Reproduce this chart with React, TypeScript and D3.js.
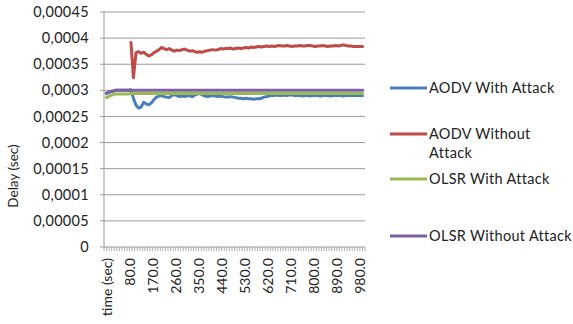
import React from "react";
import * as d3 from "d3";

const categories: string[] = ["time (sec)"].concat(
  Array.from({ length: 101 }, (_, k) => (k * 10).toFixed(1))
);

const yTicks: number[] = [0, 0.00005, 0.0001, 0.00015, 0.0002, 0.00025, 0.0003, 0.00035, 0.0004, 0.00045];
const yTickLabels: string[] = ["0", "0,00005", "0,0001", "0,00015", "0,0002", "0,00025", "0,0003", "0,00035", "0,0004", "0,00045"];

const aodvWith: number[] = [
  0.000293, 0.000295, 0.000297, 0.000298, 0.0003, 0.0003, 0.0003, 0.0003, 0.0003, 0.0003,
  0.000301, 0.000285, 0.000272, 0.000266, 0.000268, 0.000277, 0.000274, 0.000272, 0.000276, 0.000282,
  0.000287, 0.000289, 0.00029, 0.000288, 0.000287, 0.000286, 0.00029, 0.000292, 0.00029, 0.000288,
  0.000289, 0.000288, 0.000289, 0.00029, 0.000288, 0.000291, 0.000293, 0.000294, 0.000291, 0.000289,
  0.000288, 0.000289, 0.00029, 0.000289, 0.000288, 0.000289, 0.000288, 0.000287, 0.000287, 0.000288,
  0.000287, 0.000286, 0.000285, 0.000285, 0.000284, 0.000285, 0.000284, 0.000284, 0.000283, 0.000284,
  0.000284, 0.000285, 0.000287, 0.000288, 0.000289, 0.00029, 0.00029, 0.000291, 0.00029, 0.00029,
  0.000291, 0.00029, 0.000291, 0.000291, 0.00029, 0.00029, 0.00029, 0.000289, 0.00029, 0.00029,
  0.000289, 0.00029, 0.00029, 0.00029, 0.000289, 0.00029, 0.00029, 0.00029, 0.000289, 0.00029,
  0.00029, 0.00029, 0.00029, 0.000289, 0.00029, 0.00029, 0.00029, 0.00029, 0.00029, 0.00029,
  0.00029, 0.00029,
];

const aodvWithout: (number | null)[] = [
  null, null, null, null, null, null, null, null, null, null,
  0.000394, 0.000324, 0.000372, 0.000374, 0.000371, 0.000373, 0.000369, 0.000366, 0.000368, 0.000372,
  0.000375, 0.000378, 0.000382, 0.00038, 0.000378, 0.00038, 0.000377, 0.000375, 0.000377, 0.000376,
  0.000378, 0.000379, 0.000377, 0.000375, 0.000376, 0.000374, 0.000373, 0.000374, 0.000373, 0.000375,
  0.000376, 0.000377, 0.000378, 0.000377, 0.000378, 0.00038, 0.000379, 0.00038, 0.00038, 0.000381,
  0.000379, 0.00038, 0.000381, 0.00038, 0.000381, 0.000382, 0.000381, 0.000383, 0.000382, 0.000383,
  0.000384, 0.000383, 0.000384, 0.000385, 0.000384, 0.000385, 0.000384, 0.000385, 0.000386, 0.000385,
  0.000385, 0.000386, 0.000385, 0.000384, 0.000385, 0.000385, 0.000386, 0.000385, 0.000385, 0.000386,
  0.000386, 0.000385, 0.000384, 0.000385, 0.000385, 0.000386, 0.000385, 0.000384, 0.000385, 0.000385,
  0.000386, 0.000385, 0.000386, 0.000387, 0.000386, 0.000385, 0.000385, 0.000384, 0.000384, 0.000384,
  0.000384, 0.000384,
];

const olsrWith: number[] = [
  0.000285, 0.000287, 0.00029, 0.000292, 0.000293, 0.000293, 0.000293, 0.000293, 0.000293, 0.000293,
  ...Array(92).fill(0.000294),
];

const olsrWithout: number[] = [
  0.000293, 0.000296, 0.000298, 0.000299,
  ...Array(98).fill(0.0003),
];

const seriesNames: string[] = ["AODV With Attack", "AODV Without Attack", "OLSR With Attack", "OLSR Without Attack"];
const seriesColors: string[] = ["#4A7EBB", "#BE4B48", "#98B954", "#7D60A0"];

const W = 573;
const H = 324;
const FONT = "Lato, 'Open Sans', sans-serif";

export default function App() {
  const x = d3.scaleBand<number>().domain(d3.range(categories.length)).range([104, 365]).padding(0);
  const y = d3.scaleLinear().domain([0, 0.00045]).range([247, 12]);
  const cx = (i: number) => (x(i) as number) + x.bandwidth() / 2;

  const line = d3
    .line<number | null>()
    .defined((d) => d !== null)
    .x((_, i) => cx(i))
    .y((d) => y(d as number));

  const data = [aodvWith, aodvWithout, olsrWith, olsrWithout];
  const drawOrder = [0, 1, 2, 3];

  const legendY = [88, 134, 179, 236];

  return (
    <svg width={W} height={H} style={{ position: "absolute", left: 0, top: 0, background: "#fff" }} fontFamily={FONT}>
      {yTicks.map((t, i) => (
        <g key={"g" + i}>
          {t > 0 && <line x1={104} x2={365} y1={y(t)} y2={y(t)} stroke="#9a9a9a" strokeWidth={1} />}
          <line x1={100} x2={104} y1={y(t)} y2={y(t)} stroke="#9a9a9a" strokeWidth={1} />
          <text x={89} y={y(t)} dy="0.35em" textAnchor="end" fontSize={14.5} letterSpacing={0.3} fill="#222">
            {yTickLabels[i]}
          </text>
        </g>
      ))}
      <line x1={104} x2={104} y1={12} y2={247} stroke="#9a9a9a" />
      <line x1={104} x2={365} y1={247} y2={247} stroke="#9a9a9a" />
      {d3.range(categories.length + 1).map((i) => {
        const xx = i < categories.length ? (x(i) as number) : 365;
        return <line key={"t" + i} x1={xx} x2={xx} y1={247} y2={251} stroke="#9a9a9a" strokeWidth={0.8} />;
      })}
      {categories.map((c, i) =>
        i % 9 === 0 ? (
          <text
            key={"xl" + i}
            transform={`translate(${cx(i) + 1.5},258) rotate(-90)`}
            textAnchor="end"
            dy="0.35em"
            fontSize={14}
            fill="#222"
          >
            {c}
          </text>
        ) : null
      )}
      <text transform="translate(13,176) rotate(-90)" textAnchor="middle" dy="0.35em" fontSize={13.5} fill="#222">
        Delay (sec)
      </text>
      {drawOrder.map((s) => (
        <path key={"s" + s} d={line(data[s] as (number | null)[]) || ""} fill="none" stroke={seriesColors[s]} strokeWidth={3} strokeLinejoin="round" />
      ))}
      {seriesNames.map((n, i) => (
        <g key={"l" + i}>
          <line x1={390} x2={427} y1={legendY[i]} y2={legendY[i]} stroke={seriesColors[i]} strokeWidth={3} />
          {i === 1 ? (
            <text x={429} y={legendY[i]} dy="0.35em" fontSize={14.5} letterSpacing={0.3} fill="#222">
              <tspan x={429}>AODV Without</tspan>
              <tspan x={429} dy={19}>Attack</tspan>
            </text>
          ) : (
            <text x={429} y={legendY[i]} dy="0.35em" fontSize={14.5} letterSpacing={0.3} fill="#222">
              {n}
            </text>
          )}
        </g>
      ))}
    </svg>
  );
}
